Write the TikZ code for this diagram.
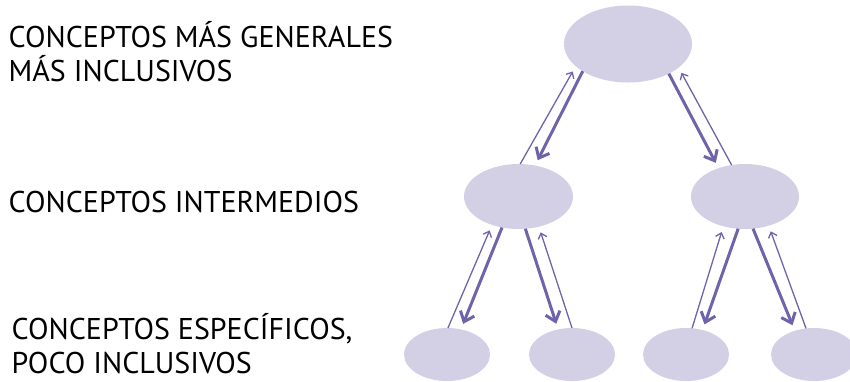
\documentclass[tikz,border=0pt]{standalone}
\usepackage{fontspec}
\setmainfont{PT Sans}
\usetikzlibrary{shapes.geometric,arrows.meta}
\definecolor{lila}{RGB}{211,208,229}
\definecolor{morado}{RGB}{111,100,170}

\begin{document}
\begin{tikzpicture}[x=1pt,y=-1pt,
    concepto/.style={ellipse, fill=lila, inner sep=0pt, outer sep=0pt},
    baja/.style={draw=morado, line width=3pt, -{Straight Barb[length=9pt,width=15pt]}, shorten >=6pt},
    sube/.style={draw=morado, line width=1.3pt, -{Straight Barb[length=5pt,width=9pt]}, shorten >=6pt},
    nivel/.style={anchor=base west, inner sep=0pt, align=left, font=\fontsize{30}{34}\selectfont}]
    \useasboundingbox (0,0) rectangle (850,381);
    \node[nivel] (gen-txt) at (8.5,81) {CONCEPTOS MÁS GENERALES\\MÁS INCLUSIVOS};
    \node[nivel] (int-txt) at (8.5,212.7) {CONCEPTOS INTERMEDIOS};
    \node[nivel] (esp-txt) at (11.5,373) {CONCEPTOS ESPECÍFICOS,\\POCO INCLUSIVOS};
    \node[concepto, minimum width=128pt, minimum height=77pt] (gen) at (628,44) {};
    \node[concepto, minimum width=109pt, minimum height=65pt] (intA) at (518.5,196.5) {};
    \node[concepto, minimum width=108pt, minimum height=65pt] (intB) at (745,196.5) {};
    \foreach \n/\x in {espA/447, espB/572, espC/686, espD/814}
      \node[concepto, minimum width=86pt, minimum height=53pt] (\n) at (\x,354.5) {};
    \draw[baja] (gen.211) -- (intA.62);
    \draw[sube] (intA.87) -- (gen.203);
    \draw[baja] (gen.324) -- (intB.133);
    \draw[sube] (intB.113) -- (gen.335);
    \draw[baja] (intA.242) -- (espA.61);
    \draw[sube] (espA.88) -- (intA.227);
    \draw[baja] (intA.282) -- (espB.119);
    \draw[sube] (espB.90) -- (intA.304);
    \draw[baja] (intB.258) -- (espC.56);
    \draw[sube] (espC.77) -- (intB.234);
    \draw[baja] (intB.284) -- (espD.129);
    \draw[sube] (espD.107) -- (intB.309);
\end{tikzpicture}
\end{document}
